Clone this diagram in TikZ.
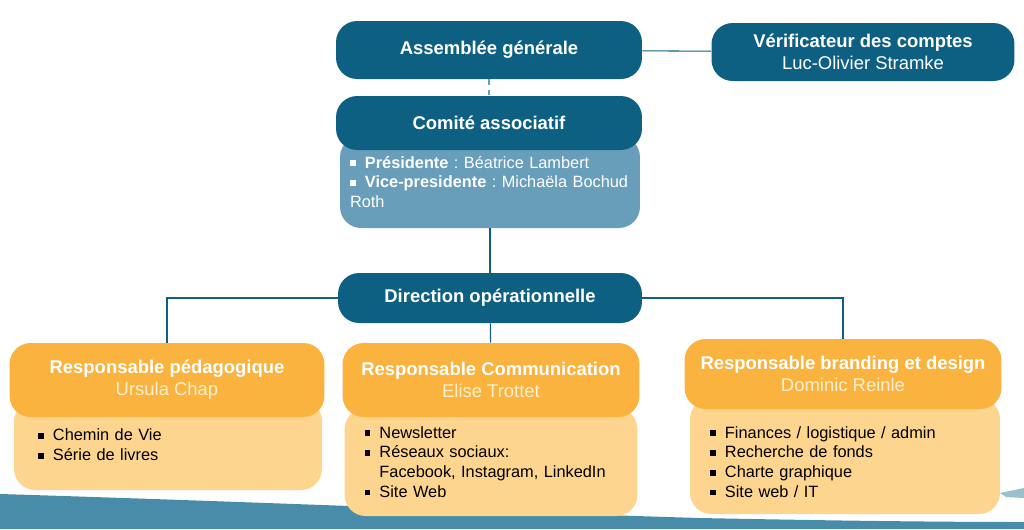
\documentclass[tikz,border=0pt]{standalone}
\usepackage{fontspec}
\setmainfont{Liberation Sans}
\usetikzlibrary{calc}
\definecolor{tealdark}{RGB}{14,96,130}
\definecolor{teallight}{RGB}{104,158,186}
\definecolor{bandblue}{RGB}{72,140,170}
\definecolor{orangedark}{RGB}{249,179,62}
\definecolor{orangelight}{RGB}{253,213,142}
\definecolor{cream}{RGB}{255,240,208}
\newcommand{\itm}{\makebox[8.5pt][l]{\rule[0.25ex]{3.2pt}{3.2pt}}}
\newcommand{\hdfont}{\fontsize{10.5}{12.5}\selectfont}
\newcommand{\lsfont}{\fontsize{9.3}{11.3}\selectfont}
\frenchspacing
\tikzset{
  darkbox/.style={rectangle, rounded corners=12pt, fill=tealdark, text=white, font=\hdfont, align=center, inner sep=0pt},
  lightbox/.style={rectangle, rounded corners=12pt, fill=teallight, text=white, font=\lsfont, align=left, inner ysep=0pt},
  orangebox/.style={rectangle, rounded corners=12pt, fill=orangedark, text=white, font=\hdfont, align=center, inner sep=0pt},
  listbox/.style={rectangle, rounded corners=12pt, fill=orangelight, text=black, font=\lsfont, align=left, inner ysep=0pt},
  link/.style={draw=tealdark, line width=0.6pt}
}

\begin{document}
\begin{tikzpicture}[x=0.02cm, y=-0.02cm]
  \useasboundingbox (0,0) rectangle (1024,529);

  % brush band at the bottom
  \fill[bandblue] (0,494) .. controls (200,500) and (500,512) .. (700,518) .. controls (850,521) and (950,522) .. (1024,522) -- (1024,529) -- (0,529) -- cycle;
  \fill[bandblue!55] (1000,493) -- (1024,488) -- (1024,498) -- (1006,497) -- cycle;

  \node[darkbox, minimum width=6.12cm, minimum height=1.16cm] (ag) at (489,50) {\textbf{Assemblée générale}};
  \node[darkbox, minimum width=6.06cm, minimum height=1.16cm] (vc) at (863,52) {\textbf{Vérificateur des comptes}\\Luc-Olivier Stramke};

  \node[lightbox, text width=5.6cm, inner xsep=0.2cm, minimum height=1.84cm] (cab) at (490,182) {\itm\textbf{Présidente} : Béatrice Lambert\\\itm\textbf{Vice-presidente} : Michaëla Bochud\\Roth};
  \node[darkbox, minimum width=6.12cm, minimum height=1.08cm] (ca) at (489,123) {\textbf{Comité associatif}};

  \node[darkbox, minimum width=6.08cm, minimum height=1.0cm] (dir) at (490,298) {\textbf{Direction opérationnelle}};

  \node[listbox, text width=5.2cm, inner xsep=0.48cm, minimum height=1.8cm] (rpb) at (168,445) {\itm Chemin de Vie\\\itm Série de livres};
  \node[orangebox, minimum width=6.3cm, minimum height=1.48cm] (rp) at (167,380) {\textbf{Responsable pédagogique}\\\textcolor{cream}{Ursula Chap}};

  \node[listbox, text width=5.06cm, inner xsep=0.4cm, minimum height=2.16cm] (rcb) at (491,462) {\itm Newsletter\\\itm Réseaux sociaux:\\\phantom{\itm}Facebook, Instagram, LinkedIn\\\itm Site Web};
  \node[orangebox, minimum width=5.94cm, minimum height=1.48cm] (rc) at (491,380) {\textbf{Responsable Communication}\\\textcolor{cream}{Elise Trottet}};

  \node[listbox, text width=5.4cm, inner xsep=0.4cm, minimum height=2.32cm] (rbb) at (845,456) {\rule{0pt}{13.5pt}\itm Finances / logistique / admin\\\itm Recherche de fonds\\\itm Charte graphique\\\itm Site web / IT};
  \node[orangebox, minimum width=6.34cm, minimum height=1.4cm] (rb) at (843,374) {\textbf{Responsable branding et design}\\\textcolor{cream}{Dominic Reinle}};

  \draw[link] (ag) -- (vc);
  \draw[link, dashed, draw=teallight] (ag) -- (ca);
  \draw[link] (cab) -- (dir);
  \draw[link] (dir.west) -| (rp.north);
  \draw[link] (dir.east) -| (rb.north);
  \draw[link] (dir) -- (rc);

\end{tikzpicture}
\end{document}
